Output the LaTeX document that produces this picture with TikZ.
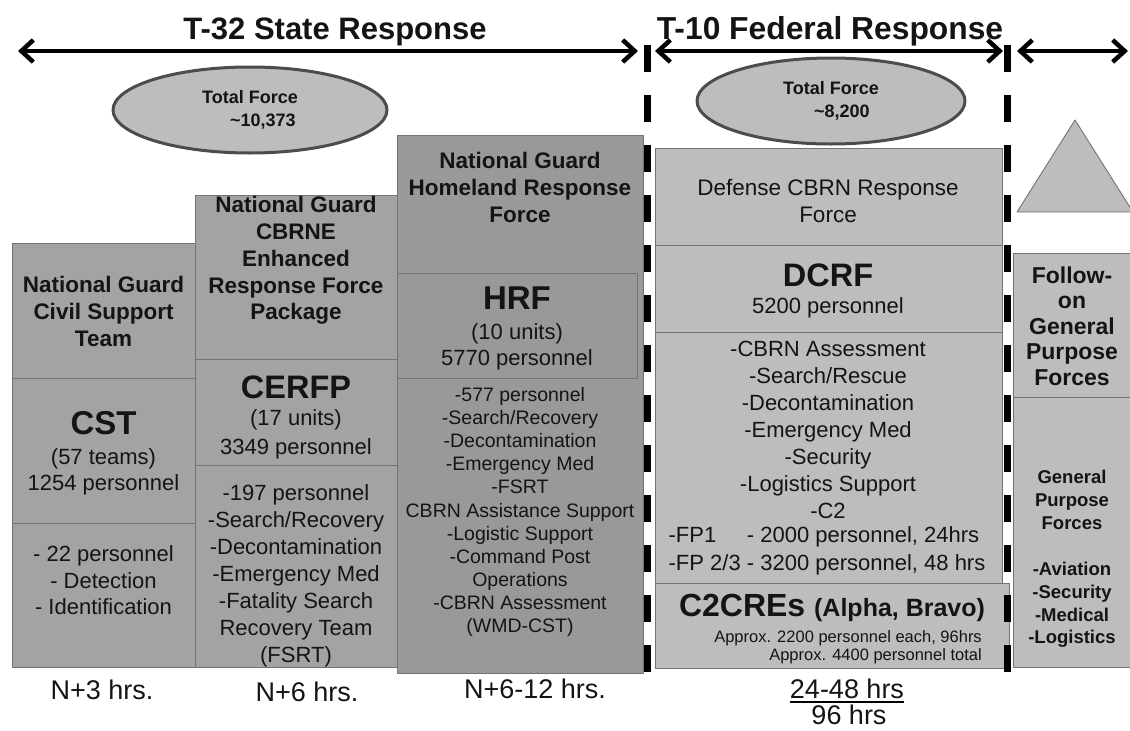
\documentclass[tikz,border=0pt]{standalone}
\usepackage{fontspec}
\setmainfont{Liberation Sans}
\usetikzlibrary{arrows.meta,shapes.geometric}
\definecolor{stategray}{gray}{0.64}
\definecolor{hrfgray}{gray}{0.60}
\definecolor{fedgray}{gray}{0.74}
\definecolor{edgegray}{gray}{0.45}
\definecolor{rimgray}{gray}{0.30}
\newcommand{\fsz}[2]{\fontsize{#1}{#2}\selectfont}

\begin{document}
\begin{tikzpicture}[x=1pt,y=-1pt,line join=round,>={Straight Barb[length=12pt,width=22pt]}]
	\tikzset{every node/.style={inner sep=0pt,align=center,text=black!92},
		cell/.style={draw=edgegray,line width=0.9pt},
		span/.style={line width=4.5pt,<->},
		divide/.style={line width=7pt,dash pattern=on 27pt off 23pt},
		title/.style={font=\bfseries\fsz{31}{34},anchor=base},
		head/.style={font=\bfseries\fsz{22.5}{27}},
		tag/.style={font=\bfseries\fsz{33}{36}},
		body/.style={font=\fsz{22}{27}},
		hrs/.style={font=\fsz{27}{30}},
		force/.style={ellipse,draw=rimgray,line width=3pt,fill=fedgray,minimum width=274pt,minimum height=86pt,font=\bfseries\fsz{18}{23}}}
	\clip (0,0) rectangle (1130,731);
	\draw[cell,fill=stategray] (12,243) rectangle (195,378);
	\draw[cell,fill=stategray] (12,378) rectangle (195,523);
	\draw[cell,fill=stategray] (12,523) rectangle (195,667);
	\draw[cell,fill=stategray] (195,195) rectangle (397,359);
	\draw[cell,fill=stategray] (195,359) rectangle (397,465);
	\draw[cell,fill=stategray] (195,465) rectangle (397,667);
	\draw[cell,fill=hrfgray] (397,135) rectangle (643,673);
	\draw[cell,fill=hrfgray] (397,273) rectangle (637,378);
	\draw[cell,fill=fedgray] (655,148) rectangle (1002,245);
	\draw[cell,fill=fedgray] (655,245) rectangle (1002,332);
	\draw[cell,fill=fedgray] (655,332) rectangle (1002,583);
	\draw[cell,fill=fedgray] (655,583) rectangle (1009,668);
	\draw[cell,fill=fedgray] (1013,253) rectangle (1135,397);
	\draw[cell,fill=fedgray] (1013,397) rectangle (1135,667);
	\draw[cell,fill=fedgray] (1075,120) -- (1017,212) -- (1133,212) -- cycle;

	\node[title] (statetitle) at (335,39) {T-32 State Response};
	\node[title,font=\bfseries\fsz{31.8}{34}] (fedtitle) at (830,39) {T-10 Federal Response};
	\node[force] (stateforce) at (250,110) {\begin{tabular}{@{}l@{}}Total Force\\\hspace*{28pt}\textasciitilde10,373\end{tabular}};
	\node[force,minimum width=268pt] (fedforce) at (831,101) {\begin{tabular}{@{}l@{}}Total Force\\\hspace*{31pt}\textasciitilde8,200\end{tabular}};

	\node[head] (cstguard) at (103.5,311) {National Guard\\Civil Support\\Team};
	\node[tag] (cstname) at (103.5,423) {CST};
	\node[body,font=\fsz{22}{26}] (cstsize) at (103.5,472) {(57 teams)\\1254 personnel};
	\node[body,font=\fsz{22}{26.5}] (csttask) at (103.5,580.5) {- 22 personnel\\- Detection\\- Identification};

	\node[head,font=\bfseries\fsz{22.5}{26.75}] (cerfpguard) at (296,260.5) {National Guard\\CBRNE\\Enhanced\\Response Force\\Package};
	\node[tag,font=\bfseries\fsz{32.5}{35}] (cerfpname) at (296,387) {CERFP};
	\node[body,font=\fsz{22}{29}] (cerfpsize) at (296,434.5) {(17 units)\\3349 personnel};
	\node[body] (cerfptask) at (296,576) {-197 personnel\\-Search/Recovery\\-Decontamination\\-Emergency Med\\-Fatality Search\\Recovery Team\\(FSRT)};

	\node[head] (hrfguard) at (520,187) {National Guard\\Homeland Response\\Force};
	\node[tag] (hrfname) at (517,298) {HRF};
	\node[body,font=\fsz{22}{26}] (hrfsize) at (517,347) {(10 units)\\5770 personnel};
	\node[body,font=\fsz{19.5}{23.1}] (hrftask) at (520,512) {-577 personnel\\-Search/Recovery\\-Decontamination\\-Emergency Med\\-FSRT\\CBRN Assistance Support\\-Logistic Support\\-Command Post\\Operations\\-CBRN Assessment\\(WMD-CST)};

	\node[body,font=\fsz{22.5}{27}] (dcrfforce) at (828,200.5) {Defense CBRN Response\\Force};
	\node[tag,font=\bfseries\fsz{32.5}{35}] (dcrfname) at (828,275) {DCRF};
	\node[body] (dcrfsize) at (828,308) {5200 personnel};
	\node[body] (dcrftask) at (828,429.5) {-CBRN Assessment\\-Search/Rescue\\-Decontamination\\-Emergency Med\\-Security\\-Logistics Support\\-C2};
	\node[body,font=\fsz{22}{28}] (dcrffp) at (827,551) {\begin{tabular}{@{}l@{ }l@{}}-FP1 & - 2000 personnel, 24hrs\\-FP 2/3 & - 3200 personnel, 48 hrs\end{tabular}};
	\node[anchor=base,font=\bfseries\fsz{32}{34}] (c2cre) at (832,616) {C2CREs {\fsz{25}{28}(Alpha, Bravo)}};
	\node[anchor=east,align=right,font=\fsz{16.5}{18}] (c2cresize) at (982,647.5) {Approx. 2200 personnel each, 96hrs\\Approx. 4400 personnel total};

	\node[head,font=\bfseries\fsz{23}{25.5}] (followon) at (1072,326) {Follow-\\on\\General\\Purpose\\Forces};
	\node[head,font=\bfseries\fsz{18.5}{22.9}] (gpf) at (1072,559) {General\\Purpose\\Forces\\[22.9pt]-Aviation\\-Security\\-Medical\\-Logistics};

	\node[hrs] (t3) at (102,690) {N+3 hrs.};
	\node[hrs] (t6) at (307,692) {N+6 hrs.};
	\node[hrs] (t612) at (535,689) {N+6-12 hrs.};
	\node[hrs] (t24) at (847,689) {24-48 hrs};
	\node[hrs] (t96) at (849,715) {96 hrs};
	\draw[line width=2pt] ([yshift=-3.3pt]t24.base west) -- ([yshift=-3.3pt]t24.base east);

	\coordinate (d1) at (647,45);
	\coordinate (d2) at (647,680);
	\coordinate (d3) at (1007,45);
	\coordinate (d4) at (1007,677);
	\draw[divide] (d1) -- (d2);
	\draw[divide] (d3) -- (d4);

	\coordinate (s1) at (18,51);
	\coordinate (s2) at (638,51);
	\coordinate (f1) at (655,51);
	\coordinate (f2) at (1003,51);
	\coordinate (g1) at (1017,51);
	\coordinate (g2) at (1128,51);
	\draw[span] (s1) -- (s2);
	\draw[span] (f1) -- (f2);
	\draw[span] (g1) -- (g2);
\end{tikzpicture}
\end{document}
